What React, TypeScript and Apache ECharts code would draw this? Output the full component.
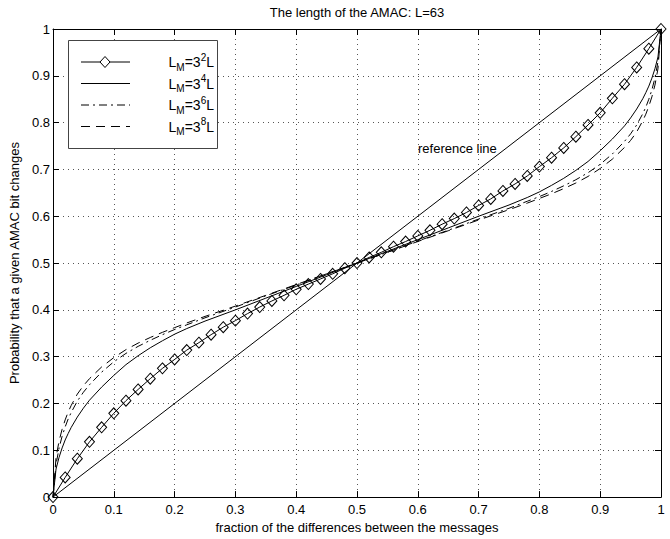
import React, { useEffect, useRef } from "react";
import * as echarts from "echarts";

const FONT = "'Liberation Sans', Arial, Helvetica, sans-serif";
const TITLE = "The length of the AMAC: L=63";
const X_NAME = "fraction of the differences between the messages";
const Y_NAME = "Probability that a given AMAC bit changes";
const REF_LABEL = "reference line";
const LEGEND_EXP = ["2", "4", "6", "8"];

// reference line
const REF_X = [0, 1];
const REF_Y = [0, 1];

// L_M = 3^2 L (diamond markers)
const X_MARK = [
  0, 0.02, 0.04, 0.06, 0.08, 0.1, 0.12, 0.14, 0.16, 0.18, 0.2, 0.22, 0.24, 0.26, 0.28, 0.3,
  0.32, 0.34, 0.36, 0.38, 0.4, 0.42, 0.44, 0.46, 0.48, 0.5, 0.52, 0.54, 0.56, 0.58, 0.6,
  0.62, 0.64, 0.66, 0.68, 0.7, 0.72, 0.74, 0.76, 0.78, 0.8, 0.82, 0.84, 0.86, 0.88, 0.9,
  0.92, 0.94, 0.96, 0.98, 1,
];
const Y_LM2 = [
  0, 0.042, 0.082, 0.118, 0.149, 0.179, 0.206, 0.23, 0.253, 0.275, 0.294, 0.314, 0.33, 0.347,
  0.363, 0.377, 0.392, 0.406, 0.419, 0.431, 0.444, 0.455, 0.466, 0.477, 0.489, 0.5,
  0.512, 0.523, 0.535, 0.546, 0.558, 0.57, 0.583, 0.595, 0.608, 0.623, 0.637, 0.654, 0.669,
  0.686, 0.706, 0.725, 0.746, 0.77, 0.795, 0.821, 0.852, 0.882, 0.918, 0.958, 1,
];

// other curves (L_M = 3^4 L, 3^6 L, 3^8 L)
const X_CURVE = [
  0, 0.005, 0.01, 0.015, 0.02, 0.025, 0.03, 0.04, 0.05, 0.06, 0.08, 0.1, 0.12, 0.14, 0.16,
  0.18, 0.2, 0.22, 0.25, 0.3, 0.35, 0.4, 0.45, 0.5,
  0.55, 0.6, 0.65, 0.7, 0.75, 0.78, 0.8, 0.82, 0.84, 0.86, 0.88, 0.9, 0.92, 0.94, 0.95,
  0.96, 0.97, 0.975, 0.98, 0.985, 0.99, 0.995, 1,
];
const Y_LM4 = [
  0, 0.06, 0.085, 0.105, 0.122, 0.136, 0.149, 0.171, 0.19, 0.207, 0.235, 0.26, 0.283, 0.302,
  0.319, 0.334, 0.348, 0.36, 0.376, 0.4, 0.425, 0.45, 0.475, 0.5,
  0.525, 0.55, 0.575, 0.6, 0.624, 0.64, 0.652, 0.666, 0.681, 0.698, 0.717, 0.74, 0.765,
  0.793, 0.81, 0.829, 0.851, 0.864, 0.878, 0.895, 0.915, 0.94, 1,
];
const Y_LM6 = [
  0, 0.07, 0.105, 0.13, 0.15, 0.167, 0.181, 0.205, 0.224, 0.24, 0.267, 0.289, 0.307, 0.322,
  0.335, 0.347, 0.358, 0.368, 0.383, 0.406, 0.43, 0.453, 0.477, 0.5,
  0.523, 0.547, 0.57, 0.594, 0.617, 0.632, 0.642, 0.653, 0.665, 0.678, 0.693, 0.711, 0.733,
  0.76, 0.776, 0.795, 0.819, 0.833, 0.85, 0.87, 0.895, 0.93, 1,
];
const Y_LM8 = [
  0, 0.085, 0.12, 0.145, 0.165, 0.182, 0.196, 0.22, 0.238, 0.253, 0.278, 0.298, 0.315, 0.329,
  0.341, 0.352, 0.362, 0.372, 0.386, 0.408, 0.431, 0.454, 0.477, 0.5,
  0.523, 0.546, 0.569, 0.592, 0.614, 0.628, 0.638, 0.648, 0.659, 0.671, 0.685, 0.702, 0.722,
  0.747, 0.762, 0.78, 0.804, 0.818, 0.835, 0.855, 0.88, 0.915, 1,
];

const AXIS_MIN = 0;
const AXIS_MAX = 1;
const AXIS_STEP = 0.1;

const zip = (xs: number[], ys: number[]) => xs.map((x, i) => [x, ys[i]]);

const DASH_DOT = [8, 4, 2, 4];
const DASHED = [9, 6];

export default function App() {
  const ref = useRef<HTMLDivElement>(null);

  useEffect(() => {
    document.body.style.margin = "0";
    if (!ref.current) return;
    const chart = echarts.init(ref.current, undefined, { renderer: "svg" });

    const gridLeft = 53;
    const gridRight = 9;
    const gridTop = 29;
    const gridBottom = 35;

    const baseAxis = {
      type: "value" as const,
      min: AXIS_MIN,
      max: AXIS_MAX,
      interval: AXIS_STEP,
      axisLine: { show: true, onZero: false, lineStyle: { color: "#000", width: 1 } },
      axisTick: { show: true, inside: true, length: 6, lineStyle: { color: "#000", width: 1 } },
    };

    const legendRows = [62, 83.5, 105, 126.5];
    const legendStyles: any[] = [
      { lineDash: null },
      { lineDash: null },
      { lineDash: DASH_DOT },
      { lineDash: DASHED },
    ];

    const legendGraphics: any[] = [
      {
        type: "rect",
        shape: { x: 68.5, y: 40.5, width: 149, height: 108 },
        style: { fill: "#fff", stroke: "#444", lineWidth: 1 },
        z: 100,
      },
    ];
    legendRows.forEach((y, i) => {
      legendGraphics.push({
        type: "line",
        shape: { x1: 81, y1: y, x2: 130, y2: y },
        style: { stroke: "#000", lineWidth: 1, lineDash: legendStyles[i].lineDash },
        z: 101,
      });
      legendGraphics.push({
        type: "text",
        x: 214,
        y: y,
        style: {
          text: `{a|L}{b|M}{a|=3}{c|${LEGEND_EXP[i]}}{a|L}`,
          align: "right",
          verticalAlign: "middle",
          fill: "#000",
          rich: {
            a: { fontSize: 14, fontFamily: FONT, lineHeight: 20, verticalAlign: "middle", fill: "#000" },
            b: { fontSize: 10, fontFamily: FONT, verticalAlign: "bottom", fill: "#000" },
            c: { fontSize: 10, fontFamily: FONT, verticalAlign: "top", fill: "#000" },
          },
        },
        z: 101,
      });
    });
    legendGraphics.push({
      type: "polygon",
      shape: {
        points: [
          [105, legendRows[0] - 5.5],
          [110, legendRows[0]],
          [105, legendRows[0] + 5.5],
          [100, legendRows[0]],
        ],
      },
      style: { fill: "#fff", stroke: "#000", lineWidth: 1 },
      z: 102,
    });

    const curveCommon = {
      type: "line" as const,
      showSymbol: false,
      silent: true,
    };

    const option: any = {
      animation: false,
      backgroundColor: "#fff",
      textStyle: { fontFamily: FONT },
      grid: { left: gridLeft, right: gridRight, top: gridTop, bottom: gridBottom, containLabel: false },
      xAxis: [
        {
          ...baseAxis,
          position: "bottom",
          name: X_NAME,
          nameLocation: "middle",
          nameGap: 21,
          nameTextStyle: { fontSize: 13, color: "#000", fontFamily: FONT },
          axisLabel: { fontSize: 13, color: "#000", margin: 6, fontFamily: FONT },
          splitLine: { show: true, lineStyle: { color: "#555", type: [1, 4], width: 1 } },
        },
        {
          ...baseAxis,
          position: "top",
          axisLabel: { show: false },
          splitLine: { show: false },
        },
      ],
      yAxis: [
        {
          ...baseAxis,
          position: "left",
          name: Y_NAME,
          nameLocation: "middle",
          nameGap: 32,
          nameTextStyle: { fontSize: 13, color: "#000", fontFamily: FONT },
          axisLabel: { fontSize: 13, color: "#000", margin: 3, fontFamily: FONT },
          splitLine: { show: true, lineStyle: { color: "#555", type: [1, 4], width: 1 } },
        },
        {
          ...baseAxis,
          position: "right",
          axisLabel: { show: false },
          splitLine: { show: false },
        },
      ],
      series: [
        {
          type: "line",
          data: zip(REF_X, REF_Y),
          showSymbol: false,
          lineStyle: { color: "#000", width: 1 },
          silent: true,
        },
        {
          ...curveCommon,
          data: zip(X_CURVE, Y_LM4),
          lineStyle: { color: "#000", width: 1 },
        },
        {
          ...curveCommon,
          data: zip(X_CURVE, Y_LM6),
          lineStyle: { color: "#000", width: 1, type: DASH_DOT },
        },
        {
          ...curveCommon,
          data: zip(X_CURVE, Y_LM8),
          lineStyle: { color: "#000", width: 1, type: DASHED },
        },
        {
          type: "line",
          data: zip(X_MARK, Y_LM2),
          symbol: "diamond",
          symbolSize: [10, 11],
          showAllSymbol: true,
          lineStyle: { color: "#000", width: 1 },
          itemStyle: { color: "rgba(255,255,255,0)", borderColor: "#000", borderWidth: 1 },
          silent: true,
          z: 3,
        },
      ],
      graphic: [
        {
          type: "text",
          x: 357,
          y: 12,
          style: {
            text: TITLE,
            align: "center",
            verticalAlign: "middle",
            fontSize: 13,
            fontFamily: FONT,
            fill: "#000",
          },
        },
        {
          type: "text",
          x: 418,
          y: 148,
          style: {
            text: REF_LABEL,
            align: "left",
            verticalAlign: "middle",
            fontSize: 13,
            fontFamily: FONT,
            fill: "#000",
          },
        },
        ...legendGraphics,
      ],
    };

    chart.setOption(option);
    return () => chart.dispose();
  }, []);

  return <div ref={ref} style={{ width: 670, height: 539 }} />;
}
